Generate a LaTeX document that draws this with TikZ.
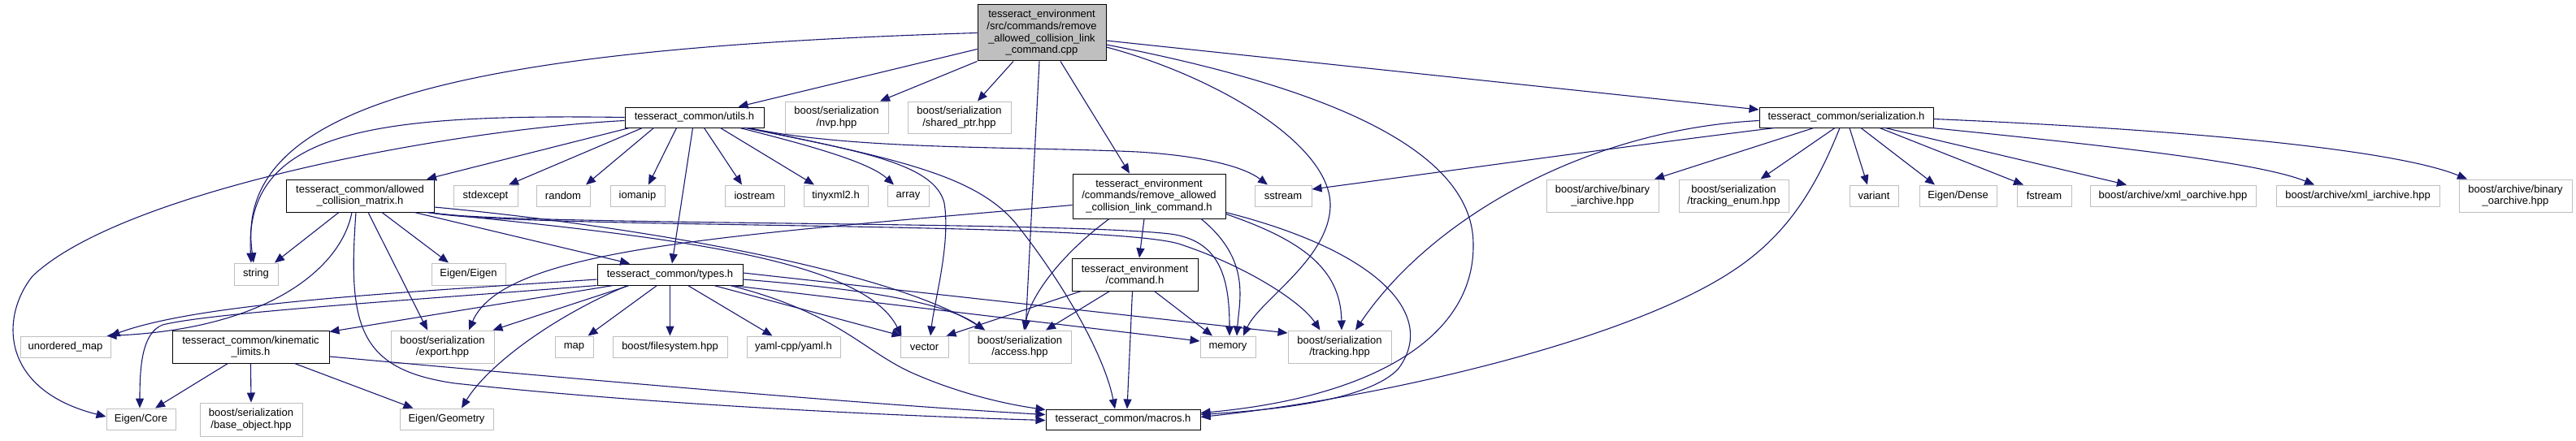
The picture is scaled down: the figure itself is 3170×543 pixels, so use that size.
\documentclass[tikz,border=0pt]{standalone}
\usepackage{fontspec}
\setmainfont{Liberation Sans}
\usetikzlibrary{arrows.meta}

\definecolor{edgeblue}{HTML}{191970}
\definecolor{grey75}{HTML}{BFBFBF}

\begin{document}
\begin{tikzpicture}[x=1pt, y=-1pt,
    dochdr/.style={draw=black, line width=1pt, fill=white, inner sep=0pt, align=center,
      font=\fontsize{13}{14.7}\selectfont},
    exthdr/.style={dochdr, draw=grey75, line width=1pt},
    srcfile/.style={dochdr, fill=grey75},
    sz/.style 2 args={minimum width=#1pt, minimum height=#2pt},
    incl/.style={edgeblue, line width=1.1pt, -{Triangle[length=12pt, width=10pt]}}]
    \useasboundingbox (0,0) rectangle (3170,543);

    % The source file
    \node[srcfile, sz={158}{69}] (main) at (1282,40.5)
      {tesseract\_environment\\/src/commands/remove\\\_allowed\_collision\_link\\\_command.cpp};

    % First row
    \node[dochdr, sz={171}{25}] (utils) at (854.5,144.5) {tesseract\_common/utils.h};
    \node[exthdr, sz={127}{39}] (nvp) at (1029.5,144.5) {boost/serialization\\/nvp.hpp};
    \node[exthdr, sz={127}{39}] (sharedptr) at (1180.5,144.5) {boost/serialization\\/shared\_ptr.hpp};
    \node[dochdr, sz={214}{25}] (serial) at (2272,144.5) {tesseract\_common/serialization.h};

    % Second row
    \node[dochdr, sz={182}{40}] (acm) at (443,241) {tesseract\_common/allowed\\\_collision\_matrix.h};
    \node[exthdr, sz={79}{26}] (stdexcept) at (597.5,241) {stdexcept};
    \node[exthdr, sz={66}{26}] (random) at (693,241) {random};
    \node[exthdr, sz={67}{26}] (iomanip) at (784.5,241) {iomanip};
    \node[exthdr, sz={73}{26}] (iostream) at (928.5,241) {iostream};
    \node[exthdr, sz={79}{26}] (tinyxml) at (1028.5,241) {tinyxml2.h};
    \node[exthdr, sz={51}{26}] (array) at (1117.5,241) {array};
    \node[dochdr, sz={188}{55}] (removecmdh) at (1414,241.5)
      {tesseract\_environment\\/commands/remove\_allowed\\\_collision\_link\_command.h};
    \node[exthdr, sz={70}{26}] (sstream) at (1579,241) {sstream};
    \node[exthdr, sz={138}{40}] (binaryi) at (1972,241) {boost/archive/binary\\\_iarchive.hpp};
    \node[exthdr, sz={135}{40}] (trackenum) at (2133.5,241) {boost/serialization\\/tracking\_enum.hpp};
    \node[exthdr, sz={60}{26}] (variant) at (2306,241) {variant};
    \node[exthdr, sz={95}{26}] (eigendense) at (2409.5,241) {Eigen/Dense};
    \node[exthdr, sz={67}{26}] (fstream) at (2515.5,241) {fstream};
    \node[exthdr, sz={204}{26}] (xmlo) at (2674,241) {boost/archive/xml\_oarchive.hpp};
    \node[exthdr, sz={201}{26}] (xmli) at (2901.5,241) {boost/archive/xml\_iarchive.hpp};
    \node[exthdr, sz={139}{40}] (binaryo) at (3095.5,241) {boost/archive/binary\\\_oarchive.hpp};

    % Third row
    \node[exthdr, sz={54}{27}] (string) at (315,337.5) {string};
    \node[exthdr, sz={91}{27}] (eigen) at (576.5,337.5) {Eigen/Eigen};
    \node[dochdr, sz={179}{26}] (types) at (824.5,338) {tesseract\_common/types.h};
    \node[dochdr, sz={155}{40}] (command) at (1396.5,338) {tesseract\_environment\\/command.h};

    % Fourth row
    \node[exthdr, sz={111}{26}] (umap) at (80.5,427) {unordered\_map};
    \node[dochdr, sz={193}{40}] (kinlim) at (308.5,427) {tesseract\_common/kinematic\\\_limits.h};
    \node[exthdr, sz={127}{40}] (export) at (544.5,427) {boost/serialization\\/export.hpp};
    \node[exthdr, sz={47}{26}] (map) at (706.5,427) {map};
    \node[exthdr, sz={141}{26}] (filesys) at (824.5,427) {boost/filesystem.hpp};
    \node[exthdr, sz={115}{26}] (yaml) at (976.5,427) {yaml-cpp/yaml.h};
    \node[exthdr, sz={59}{26}] (vector) at (1137.5,427) {vector};
    \node[exthdr, sz={126}{40}] (access) at (1255,427) {boost/serialization\\/access.hpp};
    \node[exthdr, sz={68}{26}] (memory) at (1511,427) {memory};
    \node[exthdr, sz={127}{40}] (tracking) at (1648.5,427) {boost/serialization\\/tracking.hpp};

    % Bottom row
    \node[exthdr, sz={85}{26}] (eigencore) at (173.5,516) {Eigen/Core};
    \node[exthdr, sz={126}{41}] (baseobj) at (309,516.5) {boost/serialization\\/base\_object.hpp};
    \node[exthdr, sz={115}{26}] (eigengeom) at (549.5,516) {Eigen/Geometry};
    \node[dochdr, sz={190}{25}] (macros) at (1382,516.5) {tesseract\_common/macros.h};

    % Includes of the source file
    \draw[incl] (main.west) .. controls (560,60) and (285,130) .. ([xshift=-3pt]string.north);
    \draw[incl] ([yshift=-20pt]main.west) -- ([xshift=54pt]utils.north);
    \draw[incl] (main.south west) -- ([xshift=53.5pt]nvp.north);
    \draw[incl] ([xshift=-35pt]main.south) -- ([xshift=22.5pt]sharedptr.north);
    \draw[incl] ([xshift=-3pt]main.south) -- ([xshift=7pt]access.north);
    \draw[incl] ([xshift=23pt]main.south) -- ([xshift=-24pt]removecmdh.north);
    \draw[incl] ([yshift=-17.5pt]main.east) .. controls (1500,95) and (1640,180) .. (1637,255)
      .. controls (1634,320) and (1550,370) .. ([xshift=19pt]memory.north);
    \draw[incl] ([yshift=-14.5pt]main.east) .. controls (1620,105) and (1812,180) .. (1813,300)
      .. controls (1815,420) and (1680,490) .. ([yshift=8pt]macros.east);
    \draw[incl] ([yshift=-9.5pt]main.east) -- ([yshift=9.5pt]serial.west);

    % Includes of utils.h
    \draw[incl] ([xshift=-80pt]utils.south) -- ([xshift=82pt]acm.north);
    \draw[incl] ([xshift=-64pt]utils.south) -- ([xshift=28.5pt]stdexcept.north);
    \draw[incl] ([xshift=-50pt]utils.south) -- ([xshift=28pt]random.north);
    \draw[incl] ([xshift=-22pt]utils.south) -- ([xshift=13.5pt]iomanip.north);
    \draw[incl] ([xshift=-2pt]utils.south) -- ([xshift=2.5pt]types.north);
    \draw[incl] ([xshift=12pt]utils.south) -- ([xshift=-15.5pt]iostream.north);
    \draw[incl] ([xshift=32pt]utils.south) -- ([xshift=-26.5pt]tinyxml.north);
    \draw[incl] ([xshift=56pt]utils.south) .. controls (1000,180) and (1070,200) .. ([xshift=-17.5pt]array.north);
    \draw[incl] ([xshift=63pt]utils.south) .. controls (1050,185) and (1150,200) .. (1162,250)
      .. controls (1170,300) and (1150,370) .. ([xshift=7.5pt]vector.north);
    \draw[incl] ([xshift=66pt]utils.south) .. controls (1100,195) and (1200,215) .. (1250,275)
      .. controls (1310,350) and (1360,440) .. ([xshift=-10pt]macros.north);
    \draw[incl] ([xshift=67pt]utils.south) .. controls (1050,185) and (1250,180) .. (1400,187)
      .. controls (1480,192) and (1530,205) .. ([xshift=-19pt]sstream.north);
    \draw[incl] (utils.west) .. controls (460,140) and (300,160) .. ([xshift=-6pt]string.north);
    \draw[incl] ([yshift=-4pt]utils.west) .. controls (550,160) and (150,235) .. (40,340)
      .. controls (0,390) and (0,480) .. ([yshift=3pt]eigencore.west);

    % Includes of allowed_collision_matrix.h
    \draw[incl] ([xshift=-26pt]acm.south) -- ([xshift=23pt]string.north);
    \draw[incl] ([xshift=-10pt]acm.south) .. controls (420,330) and (330,405) .. ([xshift=-5pt]umap.north east);
    \draw[incl] ([xshift=-5pt]acm.south) .. controls (428,400) and (440,455) .. (560,472)
      .. controls (800,498) and (1100,512) .. ([yshift=-1pt]macros.west);
    \draw[incl] ([xshift=10pt]acm.south) -- ([xshift=-18.5pt]export.north);
    \draw[incl] ([xshift=27pt]acm.south) -- ([xshift=-24.5pt]eigen.north);
    \draw[incl] ([xshift=67pt]acm.south) -- ([xshift=-49.5pt]types.north);
    \draw[incl] ([xshift=-10pt]acm.south east) .. controls (800,290) and (1060,315) .. ([xshift=-28pt]vector.north);
    \draw[incl] ([yshift=-14pt]acm.east) .. controls (800,280) and (1100,335) .. ([xshift=-43pt]access.north);
    \draw[incl] ([xshift=-8pt]acm.south east) .. controls (620,278) and (1300,272) .. (1440,288)
      .. controls (1500,296) and (1513,340) .. ([xshift=2pt]memory.north);
    \draw[incl] ([xshift=-6pt]acm.south east) .. controls (620,282) and (1350,272) .. (1450,300)
      .. controls (1530,326) and (1600,370) .. ([xshift=-24pt]tracking.north);

    % Includes of types.h
    \draw[incl] ([yshift=-6pt]types.west) .. controls (500,360) and (250,372) .. ([xshift=-1pt]umap.north east);
    \draw[incl] (types.south west) .. controls (500,370) and (260,385) .. (200,400)
      .. controls (175,410) and (172,450) .. ([xshift=-1.5pt]eigencore.north);
    \draw[incl] ([xshift=-70pt]types.south) -- ([yshift=-2pt]kinlim.north east);
    \draw[incl] ([xshift=-50pt]types.south) -- ([xshift=-2pt]export.north east);
    \draw[incl] ([xshift=-52pt]types.south) .. controls (680,390) and (600,450) .. ([xshift=18.5pt]eigengeom.north);
    \draw[incl] ([xshift=-16pt]types.south) -- ([xshift=17pt]map.north);
    \draw[incl] (types.south) -- (filesys.north);
    \draw[incl] ([xshift=22pt]types.south) -- ([xshift=-26pt]yaml.north);
    \draw[incl] ([xshift=54pt]types.south) -- ([xshift=-28pt]vector.north);
    \draw[incl] ([yshift=-6pt]types.east) .. controls (1050,355) and (1160,370) .. ([xshift=-43pt]access.north);
    \draw[incl] ([xshift=76pt]types.south) -- ([yshift=7pt]memory.west);
    \draw[incl] ([yshift=2pt]types.east) -- ([yshift=17pt]tracking.west);
    \draw[incl] ([xshift=74pt]types.south) .. controls (1030,385) and (1060,430) .. (1120,458)
      .. controls (1180,485) and (1240,498) .. ([yshift=-1pt]macros.north west);

    % Includes of kinematic_limits.h
    \draw[incl] ([xshift=-28pt]kinlim.south) -- ([xshift=17.5pt]eigencore.north);
    \draw[incl] (kinlim.south) -- (baseobj.north);
    \draw[incl] ([xshift=54pt]kinlim.south) -- ([xshift=-41pt]eigengeom.north);
    \draw[incl] ([yshift=-12pt]kinlim.east) .. controls (800,475) and (1100,500) .. ([yshift=6pt]macros.west);

    % Includes of remove_allowed_collision_link_command.h
    \draw[incl] ([yshift=-11pt]removecmdh.west) .. controls (900,290) and (620,305) .. ([xshift=32.5pt]export.north);
    \draw[incl] ([xshift=-6pt]removecmdh.south) -- ([xshift=5.5pt]command.north);
    \draw[incl] ([xshift=-49pt]removecmdh.south) .. controls (1310,310) and (1270,360) .. ([xshift=5pt]access.north);
    \draw[incl] ([xshift=64pt]removecmdh.south) .. controls (1540,320) and (1525,370) .. ([xshift=11pt]memory.north);
    \draw[incl] ([yshift=-22pt]removecmdh.east) .. controls (1600,295) and (1650,330) .. ([xshift=2.5pt]tracking.north);
    \draw[incl] ([yshift=-20pt]removecmdh.east) .. controls (1700,310) and (1770,390) .. (1720,455)
      .. controls (1680,495) and (1560,505) .. ([yshift=6pt]macros.east);

    % Includes of command.h
    \draw[incl] ([xshift=-66pt]command.south) -- ([xshift=27pt]vector.north);
    \draw[incl] ([xshift=-31pt]command.south) -- ([xshift=32pt]access.north);
    \draw[incl] ([xshift=24pt]command.south) -- ([xshift=-19pt]memory.north);
    \draw[incl] ([xshift=-3pt]command.south) -- ([xshift=5pt]macros.north);

    % Includes of serialization.h
    \draw[incl] ([xshift=-88pt]serial.south) .. controls (2000,180) and (1750,215) .. ([yshift=8pt]sstream.east);
    \draw[incl] ([yshift=-4pt]serial.west) .. controls (1950,160) and (1760,270) .. ([xshift=19.5pt]tracking.north);
    \draw[incl] ([xshift=-8pt]serial.south) .. controls (2235,230) and (2200,290) .. (2130,335)
      .. controls (2000,420) and (1700,490) .. ([yshift=3pt]macros.east);
    \draw[incl] ([xshift=-40pt]serial.south) -- ([xshift=64pt]binaryi.north);
    \draw[incl] ([xshift=-14pt]serial.south) -- ([xshift=33pt]trackenum.north);
    \draw[incl] ([xshift=4pt]serial.south) -- ([xshift=-8pt]variant.north);
    \draw[incl] ([xshift=18pt]serial.south) -- ([xshift=-28.5pt]eigendense.north);
    \draw[incl] ([xshift=41pt]serial.south) -- ([xshift=-25.5pt]fstream.north);
    \draw[incl] ([xshift=48pt]serial.south) -- ([xshift=-57pt]xmlo.north);
    \draw[incl] ([xshift=-2pt]serial.south east) .. controls (2600,180) and (2780,200) .. ([xshift=-53.5pt]xmli.north);
    \draw[incl] ([yshift=-2pt]serial.east) .. controls (2700,160) and (2950,185) .. ([xshift=-59.5pt]binaryo.north);
\end{tikzpicture}
\end{document}
